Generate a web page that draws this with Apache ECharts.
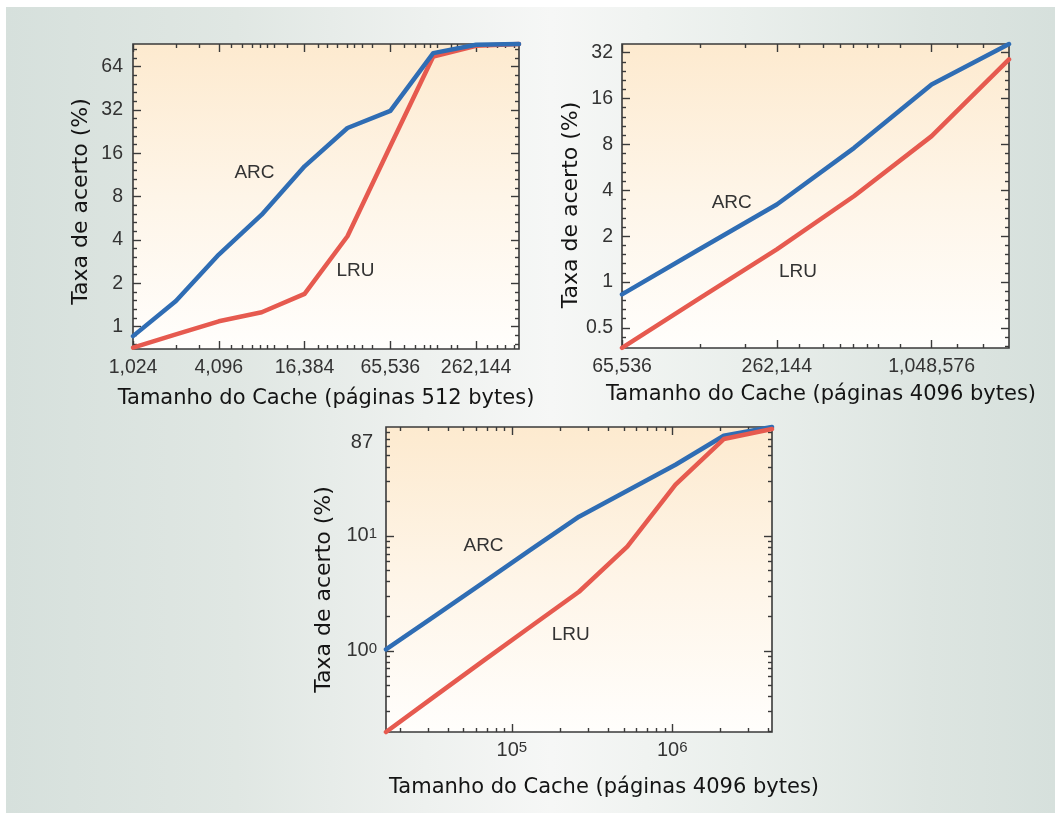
<!DOCTYPE html>
<html><head><meta charset="utf-8">
<script src="https://cdn.jsdelivr.net/npm/echarts@6/dist/echarts.min.js"></script>
<style>
html,body{margin:0;padding:0;background:#fff;}
#bg{position:absolute;left:6px;top:7px;width:1049px;height:806px;background:linear-gradient(to right,#d6e0dc 0%,#e0e7e3 22%,#eef1ef 40%,#f6f7f6 52%,#eaefec 70%,#dde5e1 88%,#d6e0dc 100%);}
#chart{position:absolute;left:0;top:0;width:1055px;height:813px;}
</style></head><body><div id="bg"></div><div id="chart"></div>
<script>
// ---------- DATA ----------
// Chart 1: cache size in 512-byte pages
const sizes1 = [1024, 2048, 4096, 8192, 16384, 32768, 65536, 131072, 262144, 524288];
const arc1   = [0.86, 1.51, 3.17, 6.0, 13.0, 24.0, 31.6, 79.5, 90.8, 92];
const lru1   = [0.715, 0.884, 1.09, 1.26, 1.69, 4.25, 18.0, 75.3, 89.3, 92];
// Chart 2: cache size in 4096-byte pages
const sizes2 = [65536, 131072, 262144, 524288, 1048576, 2097152];
const arc2   = [0.83, 1.64, 3.23, 7.6, 19.8, 36.5];
const lru2   = [0.37, 0.78, 1.64, 3.67, 9.07, 28.9];
// Chart 3: cache size in 4096-byte pages
const sizes3 = [16384, 32768, 65536, 131072, 262144, 524288, 1048576, 2097152, 4194304];
const arc3   = [1.03, 2.0, 3.89, 7.6, 14.7, 24.7, 41.6, 74.5, 88.7];
const lru3   = [0.197, 0.4, 0.81, 1.63, 3.27, 8.07, 27.9, 69.7, 85.2];

// Tick labels
const xLabels1 = [1024, 4096, 16384, 65536, 262144];
const yLabels1 = [1, 2, 4, 8, 16, 32, 64];
const xLabels2 = [65536, 262144, 1048576];
const yLabels2 = [0.5, 1, 2, 4, 8, 16, 32];
const xLabels3 = [100000, 1000000];
const xLabelText3 = [['10', '5'], ['10', '6']];
const yLabels3 = [1, 10, 65];
const yLabelText3 = [['10', '0'], ['10', '1'], ['87', '']];

// Minor tick positions
const xMinor1 = [2048, 3000, 5000, 6000, 7000, 8000, 9000, 10000, 12300, 20500, 23800, 27900, 32768, 36400, 41500, 48900, 81600, 98800, 112600, 125600, 140000, 174000, 193000, 314000, 370000, 422000, 484000];
const xMinor2 = [131500, 197000, 321000, 397000, 461000, 520000, 587000, 651000, 791000, 1315000, 1669000];
const yMajor3 = [1, 10];
const xMajor3 = [100000, 1000000];

// Axis ranges
const xRange1 = [1023.5, 524288], yRange1 = [0.7, 92];
const xRange2 = [65530, 2097152], yRange2 = [0.369, 36.5];
const xRange3 = [16384, 4194304], yRange3 = [0.197, 88.7];

const xName1 = 'Tamanho do Cache (páginas 512 bytes)';
const xName2 = 'Tamanho do Cache (páginas 4096 bytes)';
const yName = 'Taxa de acerto (%)';

// ---------- helpers ----------
function log2Fifths(range) {           // 5 even subdivisions per octave
  const out = [];
  for (let k = -40; k <= 40; k++) {
    if (k % 5 === 0) continue;
    const v = Math.pow(2, k / 5);
    if (v > range[0] && v < range[1]) out.push(v);
  }
  return out;
}
function decadic(range, majors) {      // 2..9 x 10^n
  const out = [];
  for (let e = -2; e <= 7; e++) for (let m = 1; m <= 9; m++) {
    const v = m * Math.pow(10, e);
    if (v > range[0] && v < range[1] && majors.indexOf(v) < 0) out.push(v);
  }
  return out;
}
function nearestIdx(arr, v) {
  let bi = 0, bd = Infinity;
  arr.forEach((a, i) => { const d = Math.abs(Math.log(a) - Math.log(v)); if (d < bd) { bd = d; bi = i; } });
  return bi;
}

const TF = "'Liberation Sans',Arial,sans-serif";
const NF = "'DejaVu Sans',Verdana,sans-serif";
const AX = '#3a3a3a';
const BLUE = '#2f6db4';
const RED = '#e65a4f';

function buildAxes(gi, dim, o) {
  const common = { type: 'log', logBase: o.base, gridIndex: gi, min: o.range[0], max: o.range[1],
    splitLine: { show: false }, axisLine: { show: false }, silent: true };
  const tick = (vals, len) => ({ show: true, inside: true, length: len, customValues: vals,
    lineStyle: { color: AX, width: 1.4 } });
  const main = dim === 'x' ? 'bottom' : 'left';
  const opp = dim === 'x' ? 'top' : 'right';
  return [
    Object.assign({}, common, {
      position: main, axisTick: tick(o.major, 8),
      axisLabel: { show: true, customValues: o.labels, formatter: o.fmt, margin: o.margin,
        fontFamily: TF, fontSize: 19.5, color: '#333', rich: o.rich },
      name: o.name, nameLocation: 'middle', nameGap: o.nameGap,
      nameTextStyle: { fontFamily: NF, fontSize: o.nameSize, color: '#141414', padding: o.namePad || 0 }
    }),
    Object.assign({}, common, { position: main, axisTick: tick(o.minor, 4), axisLabel: { show: false } }),
    Object.assign({}, common, { position: opp, axisTick: tick(o.major, 8), axisLabel: { show: false } }),
    Object.assign({}, common, { position: opp, axisTick: tick(o.minor, 4), axisLabel: { show: false } })
  ];
}

const fmtComma = v => Math.round(v).toLocaleString('en-US');
const fmtPow2 = v => (v < 1 ? (Math.round(v * 10) / 10).toString() : String(Math.round(v)));
const rich3 = {
  b: { fontFamily: TF, fontSize: 20, color: '#333', verticalAlign: 'bottom' },
  s: { fontFamily: TF, fontSize: 15, color: '#333', verticalAlign: 'top' },
  p: { fontFamily: TF, fontSize: 20, color: '#333', padding: [0, 4, 0, 0] }
};
const fmtX3 = v => { const t = xLabelText3[nearestIdx(xLabels3, v)]; return '{b|' + t[0] + '}{s|' + t[1] + '}'; };
const fmtY3 = v => { const t = yLabelText3[nearestIdx(yLabels3, v)]; return t[1] ? '{b|' + t[0] + '}{s|' + t[1] + '}' : '{p|' + t[0] + '}'; };

const plotBg = { type: 'linear', x: 0, y: 0, x2: 0, y2: 1, colorStops: [
  { offset: 0, color: '#fdeacf' }, { offset: 0.5, color: '#fef5e8' }, { offset: 1, color: '#fffefc' } ] };
const gridCommon = { show: true, backgroundColor: plotBg, borderColor: AX, borderWidth: 1.6 };

const xAxes = [].concat(
  buildAxes(0, 'x', { base: 2, range: xRange1, major: xLabels1, minor: xMinor1, labels: xLabels1, fmt: fmtComma, margin: 9,
    name: xName1, nameGap: 39, nameSize: 21 }),
  buildAxes(1, 'x', { base: 2, range: xRange2, major: xLabels2, minor: xMinor2, labels: xLabels2, fmt: fmtComma, margin: 9,
    name: xName2, nameGap: 36, nameSize: 21, namePad: [0, 0, 0, 11] }),
  buildAxes(2, 'x', { base: 10, range: xRange3, major: xMajor3, minor: decadic(xRange3, xMajor3), labels: xLabels3, fmt: fmtX3, rich: rich3, margin: 8,
    name: xName2, nameGap: 45, nameSize: 21, namePad: [0, 0, 0, 50] })
);
const yAxes = [].concat(
  buildAxes(0, 'y', { base: 2, range: yRange1, major: yLabels1, minor: log2Fifths(yRange1), labels: yLabels1, fmt: fmtPow2, margin: 10,
    name: yName, nameGap: 41, nameSize: 22, namePad: [0, 10, 0, 0] }),
  buildAxes(1, 'y', { base: 2, range: yRange2, major: yLabels2, minor: log2Fifths(yRange2), labels: yLabels2, fmt: fmtPow2, margin: 9,
    name: yName, nameGap: 36, nameSize: 22, namePad: [0, 18, 0, 0] }),
  buildAxes(2, 'y', { base: 10, range: yRange3, major: yMajor3, minor: decadic(yRange3, yMajor3), labels: yLabels3, fmt: fmtY3, rich: rich3, margin: 9,
    name: yName, nameGap: 51, nameSize: 22, namePad: [0, 20, 0, 0] })
);

function lineSeries(idx, xs, ys, color, z, tag, coord) {
  return {
    type: 'line', xAxisIndex: idx * 4, yAxisIndex: idx * 4, data: xs.map((x, i) => [x, ys[i]]),
    showSymbol: false, symbol: 'none', clip: false, z: z, silent: true,
    lineStyle: { color: color, width: 4.5, cap: 'round', join: 'round' },
    markPoint: { symbol: 'circle', symbolSize: 0, silent: true, data: [{ name: tag, coord: coord }],
      label: { show: true, position: 'inside', formatter: '{b}', fontFamily: TF, fontSize: 19, color: '#333' } }
  };
}

const option = {
  animation: false,
  backgroundColor: 'transparent',
  grid: [
    Object.assign({ left: 133, top: 44, width: 386, height: 305 }, gridCommon),
    Object.assign({ left: 622, top: 44, width: 387, height: 304 }, gridCommon),
    Object.assign({ left: 386, top: 427, width: 386, height: 305 }, gridCommon)
  ],
  xAxis: xAxes,
  yAxis: yAxes,
  series: [
    lineSeries(0, sizes1, lru1, RED, 3, 'LRU', [37300, 2.46]),
    lineSeries(0, sizes1, arc1, BLUE, 4, 'ARC', [7290, 11.76]),
    lineSeries(1, sizes2, arc2, BLUE, 3, 'ARC', [175000, 3.33]),
    lineSeries(1, sizes2, lru2, RED, 4, 'LRU', [316700, 1.175]),
    lineSeries(2, sizes3, arc3, BLUE, 3, 'ARC', [66500, 8.18]),
    lineSeries(2, sizes3, lru3, RED, 4, 'LRU', [232600, 1.37])
  ]
};
const chart = echarts.init(document.getElementById('chart'));
chart.setOption(option);
</script>
</body></html>
